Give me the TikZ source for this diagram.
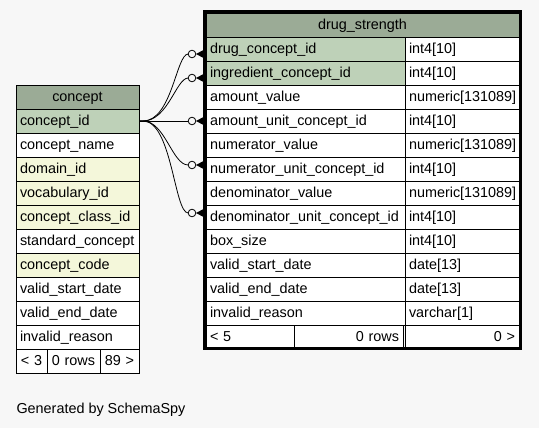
\documentclass[tikz,border=0pt]{standalone}
\usepackage{fontspec}
\setmainfont{Liberation Sans}
\definecolor{bg}{HTML}{F7F7F7}
\definecolor{hdr}{HTML}{9BAB96}
\definecolor{pk}{HTML}{BED1B8}
\definecolor{fk}{HTML}{F4F7DA}
\begin{document}
\begin{tikzpicture}[x=1pt,y=-1pt,
  cellbase/.style={draw=black, line width=0.9pt, anchor=north west, outer sep=0pt,
    inner xsep=4pt, inner ysep=0pt, minimum height=24pt,
    text height=10.5pt, text depth=2pt, font=\fontsize{14.4}{16}\selectfont, fill=white},
  lcol/.style={cellbase, text width=191pt, align=left},
  rcol/.style={cellbase, text width=106pt, align=left},
  ccol/.style={cellbase, text width=115pt, align=left},
  conn/.style={draw=black, line width=0.8pt},
  endcirc/.style={draw=black, line width=0.8pt, fill=bg}
]
\fill[bg] (0,0) rectangle (539,428);
\useasboundingbox (0,0) rectangle (539,428);

% ---------- drug_strength ----------
\node[cellbase, fill=hdr, text width=305pt, align=center] (dsh) at (206,13) {drug\_strength};
\node[lcol, fill=pk] (dcid)  at (206,37)  {drug\_concept\_id};
\node[rcol] (dcidt) at (405,37)  {int4[10]};
\node[lcol, fill=pk] (icid)  at (206,61)  {ingredient\_concept\_id};
\node[rcol] (icidt) at (405,61)  {int4[10]};
\node[lcol] (av)    at (206,85)  {amount\_value};
\node[rcol] (avt)   at (405,85)  {numeric[131089]};
\node[lcol] (aucid) at (206,109) {amount\_unit\_concept\_id};
\node[rcol] (aucidt) at (405,109) {int4[10]};
\node[lcol] (nv)    at (206,133) {numerator\_value};
\node[rcol] (nvt)   at (405,133) {numeric[131089]};
\node[lcol] (nucid) at (206,157) {numerator\_unit\_concept\_id};
\node[rcol] (nucidt) at (405,157) {int4[10]};
\node[lcol] (dv)    at (206,181) {denominator\_value};
\node[rcol] (dvt)   at (405,181) {numeric[131089]};
\node[lcol] (ducid) at (206,205) {denominator\_unit\_concept\_id};
\node[rcol] (ducidt) at (405,205) {int4[10]};
\node[lcol] (bs)    at (206,229) {box\_size};
\node[rcol] (bst)   at (405,229) {int4[10]};
\node[lcol] (vsd)   at (206,253) {valid\_start\_date};
\node[rcol] (vsdt)  at (405,253) {date[13]};
\node[lcol] (ved)   at (206,277) {valid\_end\_date};
\node[rcol] (vedt)  at (405,277) {date[13]};
\node[lcol] (ir)    at (206,301) {invalid\_reason};
\node[rcol] (irt)   at (405,301) {varchar[1]};
\node[cellbase, text width=80pt, align=left]   (dsf1) at (206,325) {< 5};
\node[cellbase, text width=101pt, align=right] (dsf2) at (294,325) {0 rows};
\node[cellbase, text width=106pt, align=right] (dsf3) at (405,325) {0 >};
\draw[line width=3pt] (204.7,11.7) rectangle (520.4,348.8);

% ---------- concept ----------
\node[cellbase, fill=hdr, text width=115pt, align=center] (ch) at (16,85) {concept};
\node[ccol, fill=pk] (cid)   at (16,109) {concept\_id};
\node[ccol]          (cname) at (16,133) {concept\_name};
\node[ccol, fill=fk] (cdom)  at (16,157) {domain\_id};
\node[ccol, fill=fk] (cvoc)  at (16,181) {vocabulary\_id};
\node[ccol, fill=fk] (ccls)  at (16,205) {concept\_class\_id};
\node[ccol]          (cstd)  at (16,229) {standard\_concept};
\node[ccol, fill=fk] (ccode) at (16,253) {concept\_code};
\node[ccol]          (cvsd)  at (16,277) {valid\_start\_date};
\node[ccol]          (cved)  at (16,301) {valid\_end\_date};
\node[ccol]          (cir)   at (16,325) {invalid\_reason};
\node[cellbase, text width=23pt, align=center] (cf1) at (16,349)  {< 3};
\node[cellbase, text width=45pt, align=center] (cf2) at (47,349)  {0 rows};
\node[cellbase, text width=31pt, align=center] (cf3) at (100,349) {89 >};

% ---------- connector ends ----------
\coordinate (c1) at ([xshift=-14pt, yshift=-5pt]dcid.west);
\coordinate (c2) at ([xshift=-14pt, yshift=-5pt]icid.west);
\coordinate (c3) at ([xshift=-14pt]aucid.west);
\coordinate (c4) at ([xshift=-14pt, yshift=4pt]nucid.west);
\coordinate (c5) at ([xshift=-14pt, yshift=4pt]ducid.west);

\draw[conn] (cid.east) -- ++(4,0) .. controls +(29,0) and +(-12,0) .. ([xshift=-3.8pt]c1);
\draw[conn] (cid.east) -- ++(4,0) .. controls +(25,0) and +(-12,0) .. ([xshift=-3.8pt]c2);
\draw[conn] (cid.east) -- ([xshift=-3.8pt]c3);
\draw[conn] (cid.east) -- ++(4,0) .. controls +(22,0) and +(-16,0) .. ([xshift=-3.8pt]c4);
\draw[conn] (cid.east) -- ++(4,0) .. controls +(29,0) and +(-14,0) .. ([xshift=-3.8pt]c5);

\foreach \c in {c1,c2,c3,c4,c5}{
  \draw[endcirc] (\c) circle[radius=3.8pt];
  \fill[black] ([xshift=4pt]\c) -- ([xshift=11.5pt, yshift=4pt]\c) -- ([xshift=11.5pt, yshift=-4pt]\c) -- cycle;
}

\node[anchor=base west, inner sep=0pt, font=\fontsize{14.4}{16}\selectfont] (gen) at (16.3,413) {Generated by SchemaSpy};
\end{tikzpicture}
\end{document}
